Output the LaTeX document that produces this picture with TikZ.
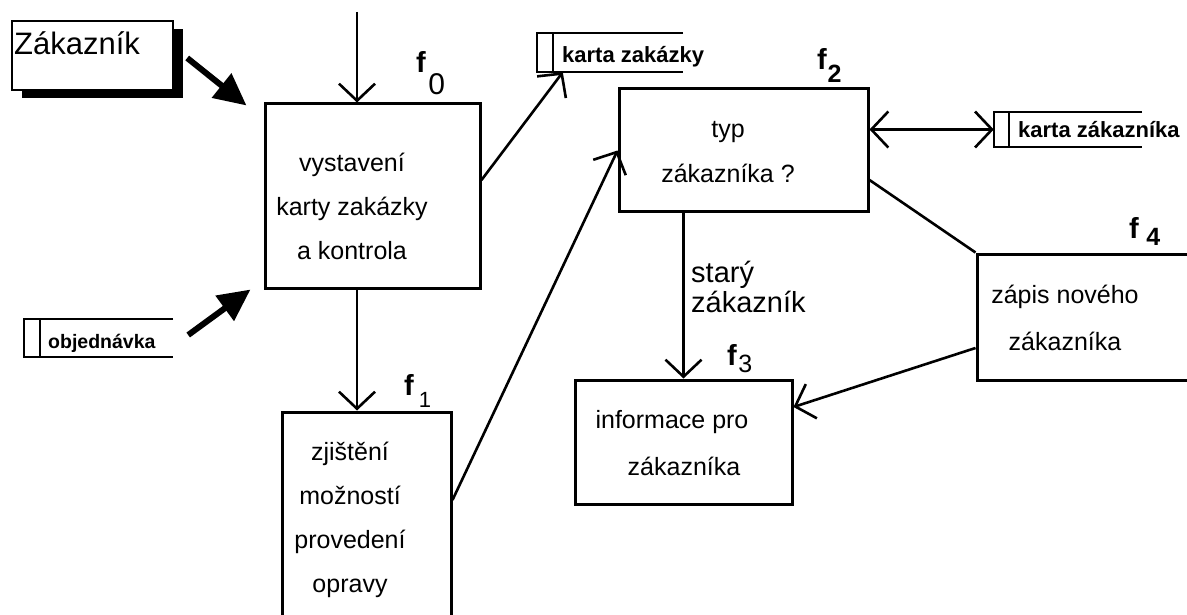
\documentclass[tikz,border=0pt]{standalone}
\usepackage{fontspec}
\setmainfont{Liberation Sans}
\usetikzlibrary{arrows.meta,shadows}

\newcommand\flabfont{\fontsize{29}{29}\selectfont\bfseries}
\newcommand\boxfont{\fontsize{25}{44}\selectfont}
\newcommand\storefont{\fontsize{22}{22}\selectfont\bfseries}

\tikzset{
  procbox/.style={draw, line width=3pt, inner sep=0pt, fill=white},
  storenode/.style={inner sep=0pt},
  storeline/.style={line width=2.4pt},
  boxtext/.style={font=\boxfont, align=center, inner sep=0pt},
  storetext/.style={font=\storefont, anchor=base west, inner sep=0pt},
  flabel/.style={font=\flabfont, anchor=base west, inner sep=0pt},
  openarrow/.style={line width=2.6pt, -{Straight Barb[length=17pt,width=36pt]}},
  twoway/.style={line width=2.6pt, {Straight Barb[length=17pt,width=36pt]}-{Straight Barb[length=17pt,width=36pt]}},
  plainline/.style={line width=2.6pt},
  thickarrow/.style={line width=6pt, -{Triangle[length=32pt,width=30pt]}},
}

\begin{document}
\begin{tikzpicture}[x=1pt,y=-1pt]
\clip (0,0) rectangle (1187,615);
\fill[white] (0,0) rectangle (1187,615);

% external entity with its heavy shadow
\node[draw, line width=2.4pt, fill=white, inner sep=0pt,
      minimum width=161pt, minimum height=69pt,
      general shadow={fill=black, shadow xshift=10pt, shadow yshift=-8pt}]
      (zk) at (92.5,55.5) {};
\node[font=\fontsize{31}{31}\selectfont, anchor=base west, inner sep=0pt] (zktext) at (14,55) {Zákazník};

% processes
\node[procbox, minimum width=215pt, minimum height=184pt] (f0) at (372.5,196) {};
\node[procbox, minimum width=169pt, minimum height=238pt] (f1) at (366.5,531) {};
\node[procbox, minimum width=249pt, minimum height=123pt] (f2) at (743.5,150.5) {};
\node[procbox, minimum width=217pt, minimum height=124pt] (f3) at (683.5,442) {};
\node[procbox, minimum width=243pt, minimum height=126pt] (f4) at (1098.5,317) {};

\node[boxtext] (t0) at (352,206) {vystavení\\karty zakázky\\a kontrola};
\node[boxtext] (t1) at (350,520) {zjištění\\možností\\provedení\\opravy};
\node[boxtext, font=\fontsize{25}{45}\selectfont] (t2) at (728,152) {typ\\zákazníka ?};
\node[boxtext, font=\fontsize{25}{47}\selectfont] (t3) at (672,443) {informace pro\\\hspace*{24pt}zákazníka};
\node[boxtext, font=\fontsize{25}{47}\selectfont] (t4) at (1065,318) {zápis nového\\zákazníka};

% process numbers
\node[flabel] (l0) at (416,73) {f\kern2.5pt\raisebox{-22pt}{\fontsize{30}{30}\selectfont\mdseries 0}};
\node[flabel] (l1) at (404,395) {f\kern5pt\raisebox{-12pt}{\fontsize{22}{22}\selectfont\mdseries 1}};
\node[flabel] (l2) at (817,70) {f\kern0.7pt\raisebox{-13pt}{\fontsize{25}{25}\selectfont 2}};
\node[flabel] (l3) at (727,365) {f\kern1.5pt\raisebox{-7pt}{\fontsize{25}{25}\selectfont\mdseries 3}};
\node[flabel] (l4) at (1129,238) {f\kern7.5pt\raisebox{-7pt}{\fontsize{25}{25}\selectfont 4}};

% data stores
\node[storenode, minimum width=149pt, minimum height=38pt] (ob) at (98.5,338) {};
\node[storenode, minimum width=146pt, minimum height=39pt] (kz) at (610,52.5) {};
\node[storenode, minimum width=148pt, minimum height=35pt] (kc) at (1068,129.5) {};
\foreach \s/\d in {ob/16pt, kz/16pt, kc/15pt} {
  \draw[storeline] (\s.north east) -- (\s.north west) -- (\s.south west) -- (\s.south east);
  \draw[storeline] ([xshift=\d]\s.north west) -- ([xshift=\d]\s.south west);
}
\node[storetext, font=\fontsize{19.5}{19.5}\selectfont\bfseries] (obtext) at (48,348) {objednávka};
\node[storetext] (kztext) at (562,63) {karta zakázky};
\node[storetext] (kctext) at (1018,138) {karta zákazníka};

% flows
\coordinate (src) at (357,12);
\draw[openarrow] (src) -- (src |- f0.north);
\draw[openarrow] (src |- f0.south) -- (src |- f1.north);
\draw[thickarrow] ([xshift=13pt,yshift=-2.5pt]zk.east) -- ([xshift=-17pt,yshift=-3pt]f0.north west);
\draw[thickarrow] ([xshift=15pt,yshift=3pt]ob.east) -- ([xshift=-13pt]f0.south west);
\draw[openarrow] ([yshift=16pt]f0.east) -- ([xshift=26pt]kz.south west);
\draw[openarrow] ([yshift=31pt]f1.east) -- (f2.west);
\draw[twoway] (f2.east |- kc.west) -- (kc.west);
\draw[plainline] ([yshift=-29.5pt]f2.east) -- (f4.north west);
\draw[openarrow] (f2.south -| f3.north) -- (f3.north);
\draw[openarrow] ([yshift=-31pt]f4.west) -- ([yshift=35pt]f3.east);

\node[font=\fontsize{29}{30}\selectfont, align=left, anchor=west, inner sep=0pt] (stary) at (691,287) {starý\\zákazník};
\end{tikzpicture}
\end{document}
